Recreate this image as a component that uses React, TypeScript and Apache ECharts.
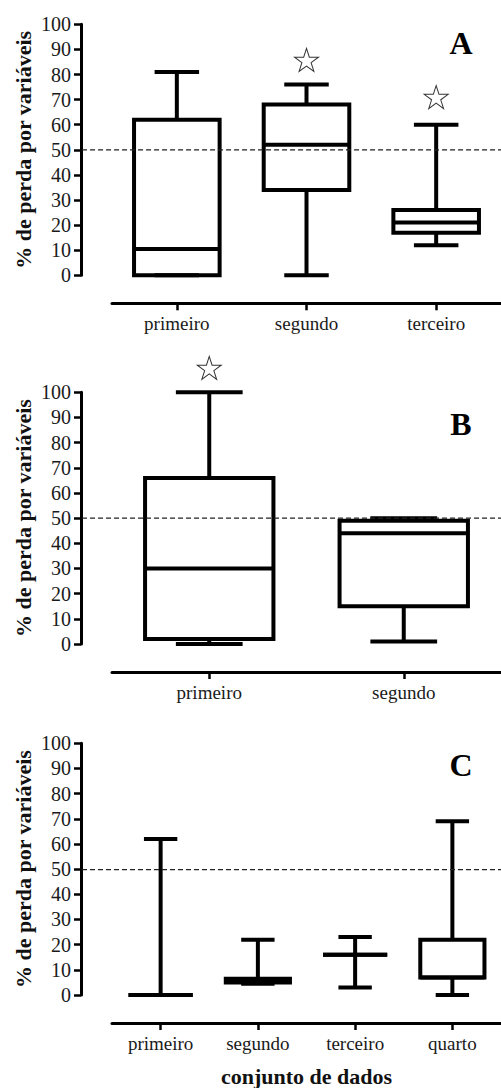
import React, { useEffect, useRef } from "react";
import * as echarts from "echarts";

// ---- Data ----
const catsA = ["primeiro", "segundo", "terceiro"];
// [min, q1, median, q3, max]
const boxA = [
  [0, 0, 10.5, 62, 81],
  [0, 34, 52, 68, 76],
  [12, 17, 21, 26, 60],
];
const starCatA = [1, 2];
const starValA = [85.8, 71];

const catsB = ["primeiro", "segundo"];
const boxB = [
  [0, 2, 30, 66, 100],
  [1, 15, 44, 49, 50],
];
const starCatB = [0];
const starValB = [109.7];

const catsC = ["primeiro", "segundo", "terceiro", "quarto"];
const boxC = [
  [0, 0, 0, 0, 62],
  [4.5, 5, 6, 6.5, 22],
  [3, 16, 16, 16, 23],
  [0, 7, 7, 22, 69],
];
const starCatC: number[] = [];
const starValC: number[] = [];

const yTicks = [0, 10, 20, 30, 40, 50, 60, 70, 80, 90, 100];
const refLine = 50;
const panelLetters = ["A", "B", "C"];
const yName = "% de perda por variáveis";
const xName = "conjunto de dados";

const SERIF = '"Liberation Serif", serif';
const STAR =
  "path://M50,0 L61.2,34.5 L97.6,34.5 L68.2,55.9 L79.4,90.5 L50,69.1 L20.6,90.5 L31.8,55.9 L2.4,34.5 L38.8,34.5 Z";

const renderBox = (params: any, api: any) => {
  const idx = api.value(0);
  const mn = api.value(1);
  const q1 = api.value(2);
  const md = api.value(3);
  const q3 = api.value(4);
  const mx = api.value(5);
  const cx = api.coord([idx, 0])[0];
  const yy = (v: number) => api.coord([idx, v])[1];
  const band = api.size([1, 0])[0];
  const bw = band * 0.66;
  const cw = bw * 0.52;
  const style = { stroke: "#000", lineWidth: 4, fill: "none" };
  const line = (x1: number, y1: number, x2: number, y2: number) => ({
    type: "line",
    shape: { x1, y1, x2, y2 },
    style,
  });
  const children: any[] = [];
  if (mx > q3) children.push(line(cx, yy(q3), cx, yy(mx)));
  children.push(line(cx - cw / 2, yy(mx), cx + cw / 2, yy(mx)));
  if (mn < q1) children.push(line(cx, yy(q1), cx, yy(mn)));
  children.push(line(cx - cw / 2, yy(mn), cx + cw / 2, yy(mn)));
  if (q3 > q1) {
    children.push({
      type: "rect",
      shape: { x: cx - bw / 2, y: yy(q3), width: bw, height: yy(q1) - yy(q3) },
      style,
    });
  } else {
    children.push(line(cx - bw / 2, yy(q1), cx + bw / 2, yy(q1)));
  }
  children.push(line(cx - bw / 2, yy(md), cx + bw / 2, yy(md)));
  return { type: "group", children };
};

const panels = [
  { cats: catsA, box: boxA, sc: starCatA, sv: starValA, top: 24.3, height: 251, xname: "" },
  { cats: catsB, box: boxB, sc: starCatB, sv: starValB, top: 392.3, height: 251.7, xname: "" },
  { cats: catsC, box: boxC, sc: starCatC, sv: starValC, top: 743.3, height: 252.7, xname: xName },
];

export default function App() {
  const ref = useRef<HTMLDivElement>(null);
  useEffect(() => {
    if (!ref.current) return;
    const chart = echarts.init(ref.current, null, { renderer: "svg" });
    const grid: any[] = [];
    const xAxis: any[] = [];
    const yAxis: any[] = [];
    const series: any[] = [];
    const graphic: any[] = [];
    panels.forEach((p, i) => {
      const gMain = 2 * i;
      const gDash = 2 * i + 1;
      grid.push({ left: 112, width: 392, top: p.top, height: p.height });
      grid.push({ left: 82, width: 419, top: p.top, height: p.height });
      xAxis.push({
        type: "category",
        gridIndex: gMain,
        data: p.cats,
        boundaryGap: true,
        offset: 28,
        axisLine: { show: true, onZero: false, lineStyle: { color: "#000", width: 3 } },
        axisTick: { show: true, alignWithLabel: true, length: 7, lineStyle: { color: "#000", width: 2.5 } },
        axisLabel: { margin: 11, color: "#1a1a1a", fontFamily: SERIF, fontSize: 19 },
        splitLine: { show: false },
        name: p.xname,
        nameLocation: "middle",
        nameGap: 42,
        nameMoveOverlap: false,
        nameTextStyle: { fontFamily: SERIF, fontSize: 22, fontWeight: "bold", color: "#111" },
      });
      xAxis.push({ type: "value", gridIndex: gDash, min: 0, max: 1, show: false });
      yAxis.push({
        type: "value",
        gridIndex: gMain,
        min: 0,
        max: 100,
        interval: 10,
        offset: 31,
        axisLine: { show: true, onZero: false, lineStyle: { color: "#000", width: 3 } },
        axisTick: { show: true, length: 7, lineStyle: { color: "#000", width: 2.5 } },
        axisLabel: {
          margin: 10,
          color: "#1a1a1a",
          fontFamily: SERIF,
          fontSize: 20,
          formatter: (v: number) => (yTicks.includes(v) ? String(v) : ""),
        },
        splitLine: { show: false },
        name: yName,
        nameLocation: "middle",
        nameRotate: 90,
        nameGap: 47,
        nameMoveOverlap: false,
        nameTextStyle: { fontFamily: SERIF, fontSize: 22, fontWeight: "bold", color: "#111" },
      });
      yAxis.push({ type: "value", gridIndex: gDash, min: 0, max: 100, show: false });
      series.push({
        type: "line",
        xAxisIndex: gDash,
        yAxisIndex: gDash,
        data: [
          [0, refLine],
          [1, refLine],
        ],
        symbol: "none",
        silent: true,
        lineStyle: { color: "#222", width: 1.3, type: [5, 3] },
        z: 3,
      });
      series.push({
        type: "custom",
        xAxisIndex: gMain,
        yAxisIndex: gMain,
        renderItem: renderBox,
        clip: false,
        encode: { x: 0, y: [1, 2, 3, 4, 5] },
        data: p.box.map((b, k) => [k, ...b]),
        z: 2,
      });
      if (p.sc.length) {
        series.push({
          type: "scatter",
          xAxisIndex: gMain,
          yAxisIndex: gMain,
          clip: false,
          symbol: STAR,
          symbolSize: [24, 23],
          itemStyle: { color: "rgba(0,0,0,0)", borderColor: "#000", borderWidth: 1 },
          data: p.sc.map((c, k) => [c, p.sv[k]]),
          z: 4,
        });
      }
      graphic.push({
        type: "text",
        x: 461,
        y: p.top + (i === 0 ? 19 : i === 1 ? 32 : 22),
        style: {
          text: panelLetters[i],
          font: `bold 32px ${SERIF}`,
          fill: "#000",
          align: "center",
          verticalAlign: "middle",
          textAlign: "center",
          textVerticalAlign: "middle",
        },
      });
    });
    chart.setOption({
      animation: false,
      backgroundColor: "#fff",
      grid,
      xAxis,
      yAxis,
      series,
      graphic,
    });
    return () => chart.dispose();
  }, []);
  return (
    <div
      ref={ref}
      style={{ position: "absolute", left: 0, top: 0, width: 501, height: 1088 }}
    />
  );
}
